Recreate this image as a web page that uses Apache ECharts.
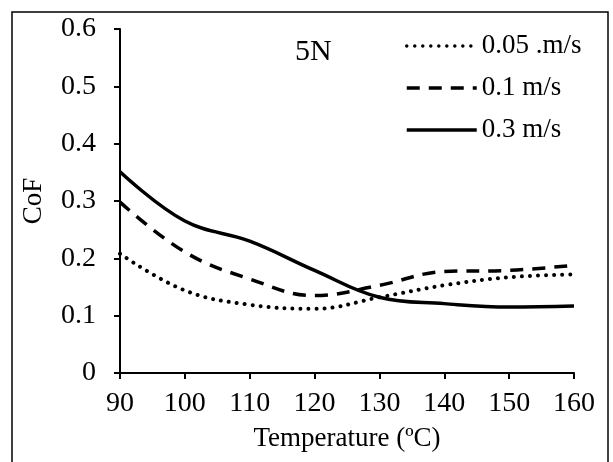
<!DOCTYPE html>
<html><head><meta charset="utf-8">
<script src="https://cdn.jsdelivr.net/npm/echarts@6/dist/echarts.min.js"></script>
<style>html,body{margin:0;padding:0;background:#fff}#c{width:613px;height:462px}</style>
</head><body><div id="c"></div>
<script>
const temps = [90, 100, 110, 120, 130, 140, 150, 160];
const seriesNames = ['0.05 .m/s', '0.1 m/s', '0.3 m/s'];
const v005 = [0.208, 0.144, 0.119, 0.112, 0.132, 0.153, 0.167, 0.172];
const v01 = [0.298, 0.211, 0.164, 0.135, 0.153, 0.177, 0.179, 0.188];
const v03 = [0.351, 0.265, 0.230, 0.179, 0.132, 0.121, 0.115, 0.117];
const yTicks = [0, 0.1, 0.2, 0.3, 0.4, 0.5, 0.6];

const font = "'Liberation Serif','Times New Roman',serif";
const chart = echarts.init(document.getElementById('c'), null, {renderer: 'canvas'});
const mk = (name, vals, type, width, cap) => ({
  name, type: 'line', smooth: 0.4, showSymbol: false, symbol: 'none',
  data: temps.map((t, i) => [t, vals[i]]),
  lineStyle: {color: '#000', width, type, cap},
  itemStyle: {color: '#000'}
});
chart.setOption({
  animation: false,
  backgroundColor: '#fff',
  graphic: [{type: 'rect', z: 100, shape: {x: 12, y: 12, width: 596, height: 470}, style: {fill: 'none', stroke: '#000', lineWidth: 1.5}, silent: true},
            {type: 'text', left: 295, top: 37, style: {text: '5N', font: '30px ' + font, fill: '#000'}}],
  grid: {left: 120, right: 39, top: 29, bottom: 89},
  legend: {
    orient: 'vertical', left: 400, top: 27, itemWidth: 70, itemHeight: 14, itemGap: 14,
    data: seriesNames,
    itemStyle: {opacity: 0},
    lineStyle: {width: 3.5},
    textStyle: {fontFamily: font, fontSize: 27, color: '#000', lineHeight: 28}
  },
  xAxis: {
    type: 'value', min: 90, max: 160, interval: 10,
    name: 'Temperature (ºC)', nameLocation: 'middle', nameGap: 52,
    nameTextStyle: {fontFamily: font, fontSize: 27, color: '#000'},
    axisLine: {lineStyle: {color: '#000', width: 2}},
    axisTick: {show: true, length: 6, lineStyle: {color: '#000', width: 2}},
    axisLabel: {fontFamily: font, fontSize: 28, color: '#000', margin: 17},
    splitLine: {show: false}
  },
  yAxis: {
    type: 'value', min: 0, max: 0.6, interval: 0.1,
    name: 'CoF', nameLocation: 'middle', nameGap: 73, nameRotate: 90,
    nameTextStyle: {fontFamily: font, fontSize: 27, color: '#000'},
    axisLine: {show: true, lineStyle: {color: '#000', width: 2}},
    axisTick: {show: true, length: 6, lineStyle: {color: '#000', width: 2}},
    axisLabel: {fontFamily: font, fontSize: 28, color: '#000', margin: 24,
      formatter: v => { const t = yTicks.find(x => Math.abs(x - v) < 1e-9); return t === undefined ? '' : String(t); }},
    splitLine: {show: false}
  },
  series: [
    mk(seriesNames[0], v005, [0.01, 8], 4, 'round'),
    mk(seriesNames[1], v01, [13, 9], 3.5, 'butt'),
    mk(seriesNames[2], v03, 'solid', 3.5, 'butt')
  ]
});
</script></body></html>
